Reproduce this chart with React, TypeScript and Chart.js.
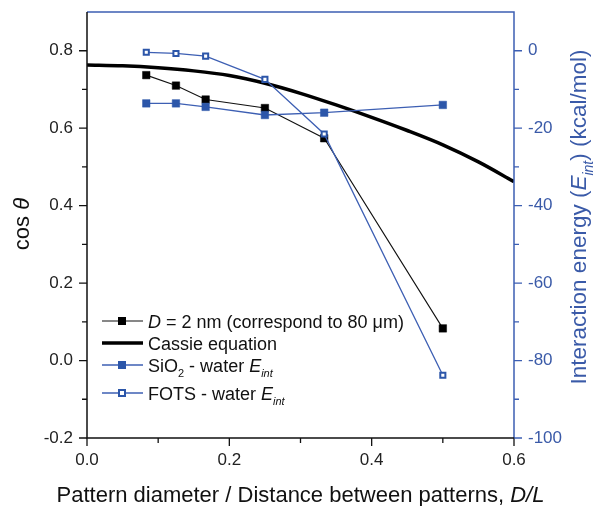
import React, { useEffect, useRef } from "react";
import { Chart, registerables } from "chart.js";

Chart.register(...registerables);

// ---------- data ----------
const patternRatio = [0.0833, 0.125, 0.1667, 0.25, 0.3333, 0.5];
const cosD2nm = [0.737, 0.71, 0.674, 0.652, 0.574, 0.083];
const sio2Eint = [-13.6, -13.6, -14.5, -16.6, -16.0, -14.0];
const fotsEint = [-0.4, -0.7, -1.4, -7.4, -21.5, -83.8];
const cassieRatio = [0, 0.05, 0.1, 0.15, 0.2, 0.25, 0.3, 0.35, 0.4, 0.45, 0.5, 0.55, 0.6];
const cassieCos = [0.763, 0.761, 0.756, 0.748, 0.736, 0.716, 0.69, 0.66, 0.628, 0.594, 0.557, 0.513, 0.462];

const xTicks = [0, 0.2, 0.4, 0.6];
const xMinor = [0.1, 0.3, 0.5];
const leftTicks = [-0.2, 0, 0.2, 0.4, 0.6, 0.8];
const leftMinor = [-0.1, 0.1, 0.3, 0.5, 0.7];
const rightTicks = [-100, -80, -60, -40, -20, 0];
const rightMinor = [-90, -70, -50, -30, -10];

const BLUE_LINE = "#3d5fb3";
const BLUE_MARK = "#2c56a9";
const BLUE_TEXT = "#3a5aa8";
const FONT = '"Liberation Sans", Arial, sans-serif';

type Seg = { t: string; it?: boolean; sub?: boolean };

function segFont(s: Seg, size: number) {
  const sz = s.sub ? Math.round(size * 0.62) : size;
  return `${s.it ? "italic " : ""}${sz}px ${FONT}`;
}

function richWidth(ctx: CanvasRenderingContext2D, segs: Seg[], size: number) {
  let w = 0;
  for (const s of segs) {
    ctx.font = segFont(s, size);
    w += ctx.measureText(s.t).width;
  }
  return w;
}

function drawRich(
  ctx: CanvasRenderingContext2D,
  segs: Seg[],
  x: number,
  y: number,
  size: number,
  color: string,
  align: "left" | "center"
) {
  const total = richWidth(ctx, segs, size);
  let cx = align === "center" ? x - total / 2 : x;
  ctx.fillStyle = color;
  ctx.textAlign = "left";
  ctx.textBaseline = "alphabetic";
  for (const s of segs) {
    ctx.font = segFont(s, size);
    ctx.fillText(s.t, cx, y + (s.sub ? size * 0.3 : 0));
    cx += ctx.measureText(s.t).width;
  }
}

const decorPlugin = {
  id: "decor",
  afterDraw(chart: any) {
    const ctx: CanvasRenderingContext2D = chart.ctx;
    const { left, right, top, bottom } = chart.chartArea;
    const xs = chart.scales.x;
    const yl = chart.scales.y;
    const yr = chart.scales.y1;
    ctx.save();

    // axis borders
    ctx.lineWidth = 1.5;
    ctx.strokeStyle = BLUE_LINE;
    ctx.beginPath();
    ctx.moveTo(left, top);
    ctx.lineTo(right, top);
    ctx.lineTo(right, bottom);
    ctx.stroke();
    ctx.strokeStyle = "#111";
    ctx.beginPath();
    ctx.moveTo(left, top);
    ctx.lineTo(left, bottom);
    ctx.lineTo(right + 0.75, bottom);
    ctx.stroke();

    // tick marks
    ctx.lineWidth = 1.3;
    ctx.strokeStyle = "#111";
    ctx.beginPath();
    for (const v of xTicks) {
      const px = xs.getPixelForValue(v);
      ctx.moveTo(px, bottom);
      ctx.lineTo(px, bottom + 8);
    }
    for (const v of xMinor) {
      const px = xs.getPixelForValue(v);
      ctx.moveTo(px, bottom);
      ctx.lineTo(px, bottom + 5);
    }
    for (const v of leftTicks) {
      const py = yl.getPixelForValue(v);
      ctx.moveTo(left, py);
      ctx.lineTo(left - 8, py);
    }
    for (const v of leftMinor) {
      const py = yl.getPixelForValue(v);
      ctx.moveTo(left, py);
      ctx.lineTo(left - 5, py);
    }
    ctx.stroke();
    ctx.strokeStyle = BLUE_LINE;
    ctx.beginPath();
    for (const v of rightTicks) {
      const py = yr.getPixelForValue(v);
      ctx.moveTo(right, py);
      ctx.lineTo(right + 8, py);
    }
    for (const v of rightMinor) {
      const py = yr.getPixelForValue(v);
      ctx.moveTo(right, py);
      ctx.lineTo(right + 5, py);
    }
    ctx.stroke();

    // x title
    drawRich(
      ctx,
      [{ t: "Pattern diameter / Distance between patterns, " }, { t: "D/L", it: true }],
      (left + right) / 2,
      502,
      22,
      "#111",
      "center"
    );

    // left title
    ctx.save();
    ctx.translate(29, 224);
    ctx.rotate(-Math.PI / 2);
    drawRich(ctx, [{ t: "cos " }, { t: "θ", it: true }], 0, 0, 22, "#111", "center");
    ctx.restore();

    // right title
    ctx.save();
    ctx.translate(586, 217);
    ctx.rotate(-Math.PI / 2);
    drawRich(
      ctx,
      [
        { t: "Interaction energy (" },
        { t: "E", it: true },
        { t: "int", it: true, sub: true },
        { t: ") (kcal/mol)" },
      ],
      0,
      0,
      22.5,
      BLUE_TEXT,
      "center"
    );
    ctx.restore();

    // legend
    const lx0 = left + 15;
    const lx1 = left + 56;
    const mx = left + 35;
    const tx = left + 61;
    const rows = [top + 309, top + 331, top + 353, top + 381];
    const fs = 18;

    const square = (x: number, y: number, fill: string, stroke: string, open: boolean) => {
      if (open) {
        ctx.fillStyle = "#fff";
        ctx.fillRect(x - 3.5, y - 3.5, 7, 7);
        ctx.strokeStyle = stroke;
        ctx.lineWidth = 2;
        ctx.strokeRect(x - 3, y - 3, 6, 6);
      } else {
        ctx.fillStyle = fill;
        ctx.fillRect(x - 4, y - 4, 8, 8);
      }
    };
    const line = (y: number, color: string, w: number) => {
      ctx.strokeStyle = color;
      ctx.lineWidth = w;
      ctx.beginPath();
      ctx.moveTo(lx0, y);
      ctx.lineTo(lx1, y);
      ctx.stroke();
    };

    line(rows[0], "#111", 1.2);
    square(mx, rows[0], "#000", "#000", false);
    drawRich(
      ctx,
      [{ t: "D", it: true }, { t: " = 2 nm (correspond to 80 μm)" }],
      tx,
      rows[0] + 6.5,
      fs,
      "#111",
      "left"
    );

    line(rows[1], "#000", 3.5);
    drawRich(ctx, [{ t: "Cassie equation" }], tx, rows[1] + 6.5, fs, "#111", "left");

    line(rows[2], BLUE_LINE, 1.3);
    square(mx, rows[2], BLUE_MARK, BLUE_MARK, false);
    drawRich(
      ctx,
      [
        { t: "SiO" },
        { t: "2", sub: true },
        { t: " - water " },
        { t: "E", it: true },
        { t: "int", it: true, sub: true },
      ],
      tx,
      rows[2] + 6.5,
      fs,
      "#111",
      "left"
    );

    line(rows[3], BLUE_LINE, 1.3);
    square(mx, rows[3], BLUE_MARK, BLUE_MARK, true);
    drawRich(
      ctx,
      [{ t: "FOTS - water " }, { t: "E", it: true }, { t: "int", it: true, sub: true }],
      tx,
      rows[3] + 6.5,
      fs,
      "#111",
      "left"
    );

    ctx.restore();
  },
};

export default function App() {
  const canvasRef = useRef<HTMLCanvasElement | null>(null);

  useEffect(() => {
    const canvas = canvasRef.current;
    if (!canvas) return;

    const toPts = (xs: number[], ys: number[]) => xs.map((x, i) => ({ x, y: ys[i] }));

    const chart = new Chart(canvas, {
      type: "scatter",
      data: {
        datasets: [
          {
            label: "FOTS - water Eint",
            data: toPts(patternRatio, fotsEint),
            yAxisID: "y1",
            showLine: true,
            borderColor: BLUE_LINE,
            borderWidth: 1.3,
            pointStyle: "rect",
            pointRadius: 3.6,
            pointBorderWidth: 2,
            pointBorderColor: BLUE_MARK,
            pointBackgroundColor: "#ffffff",
            order: 1,
          },
          {
            label: "SiO2 - water Eint",
            data: toPts(patternRatio, sio2Eint),
            yAxisID: "y1",
            showLine: true,
            borderColor: BLUE_LINE,
            borderWidth: 1.3,
            pointStyle: "rect",
            pointRadius: 5.3,
            pointBorderWidth: 0.5,
            pointBorderColor: BLUE_MARK,
            pointBackgroundColor: BLUE_MARK,
            order: 2,
          },
          {
            label: "D = 2 nm",
            data: toPts(patternRatio, cosD2nm),
            yAxisID: "y",
            showLine: true,
            borderColor: "#111",
            borderWidth: 1.1,
            pointStyle: "rect",
            pointRadius: 5.3,
            pointBorderWidth: 0.5,
            pointBorderColor: "#000",
            pointBackgroundColor: "#000",
            order: 3,
          },
          {
            label: "Cassie equation",
            data: toPts(cassieRatio, cassieCos),
            yAxisID: "y",
            showLine: true,
            borderColor: "#000",
            borderWidth: 3.5,
            pointRadius: 0,
            cubicInterpolationMode: "monotone",
            order: 4,
          },
        ],
      },
      options: {
        animation: false,
        responsive: true,
        maintainAspectRatio: false,
        layout: { padding: { top: 12, left: 0, right: 0, bottom: 0 } },
        plugins: {
          legend: { display: false },
          tooltip: { enabled: false },
          title: { display: false },
        },
        scales: {
          x: {
            type: "linear",
            min: 0,
            max: 0.6,
            afterBuildTicks: (s: any) => {
              s.ticks = xTicks.map((v) => ({ value: v }));
            },
            afterFit: (s: any) => {
              s.height = 68;
              s.paddingLeft = 0;
              s.paddingRight = 0;
            },
            grid: { display: false, drawTicks: false },
            border: { display: false },
            ticks: {
              padding: 12,
              color: "#222",
              font: { family: FONT, size: 17 },
              callback: (v: any) => Number(v).toFixed(1),
            },
          },
          y: {
            type: "linear",
            position: "left",
            min: -0.2,
            max: 0.9,
            afterBuildTicks: (s: any) => {
              s.ticks = leftTicks.map((v) => ({ value: v }));
            },
            afterFit: (s: any) => {
              s.width = 87;
              s.paddingTop = 0;
              s.paddingBottom = 0;
            },
            grid: { display: false, drawTicks: false },
            border: { display: false },
            ticks: {
              padding: 14,
              color: "#222",
              font: { family: FONT, size: 17 },
              callback: (v: any) => Number(v).toFixed(1),
            },
          },
          y1: {
            type: "linear",
            position: "right",
            min: -100,
            max: 10,
            afterBuildTicks: (s: any) => {
              s.ticks = rightTicks.map((v) => ({ value: v }));
            },
            afterFit: (s: any) => {
              s.width = 83;
              s.paddingTop = 0;
              s.paddingBottom = 0;
            },
            grid: { display: false, drawTicks: false },
            border: { display: false },
            ticks: {
              padding: 14,
              color: BLUE_TEXT,
              font: { family: FONT, size: 17 },
              callback: (v: any) => String(Math.round(Number(v))),
            },
          },
        },
      },
      plugins: [decorPlugin],
    } as any);

    return () => chart.destroy();
  }, []);

  return (
    <div
      style={{
        position: "absolute",
        left: 0,
        top: 0,
        width: 597,
        height: 506,
        background: "#fff",
      }}
    >
      <canvas ref={canvasRef} />
    </div>
  );
}
